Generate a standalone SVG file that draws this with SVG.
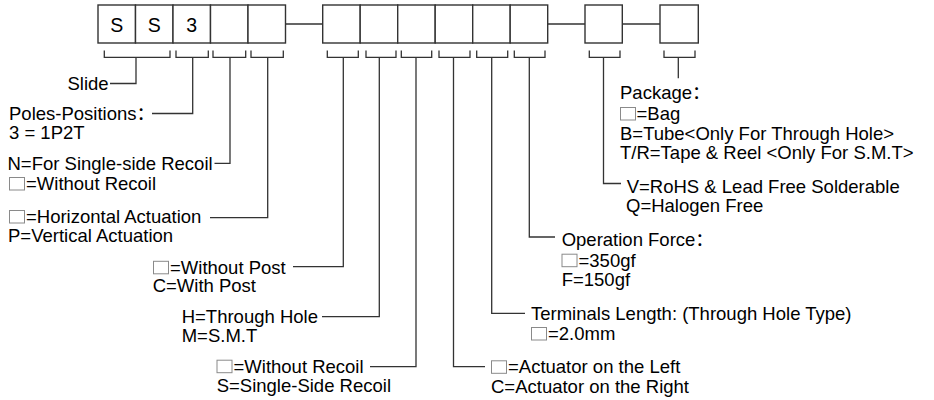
<svg xmlns="http://www.w3.org/2000/svg" width="934" height="400" viewBox="0 0 934 400">
<style>
.bx{fill:#fff;stroke:#333;stroke-width:1.4}
.ln{fill:none;stroke:#333;stroke-width:1.3}
.t{font-family:"Liberation Sans",Arial,"Noto Sans CJK SC",sans-serif;font-size:18.5px;fill:#000}
.bt{font-family:"Liberation Sans",Arial,sans-serif;font-size:19.5px;fill:#000;text-anchor:middle}
.sq{fill:#fff;stroke:#8a8a8a;stroke-width:1}
</style>
<rect width="934" height="400" fill="#fff"/>
<g id="connectors" class="ln">
<path d="M285.5 24H322.7M547.7 24H585M622.3 24H660"/>
<path d="M104.3 50.5V57.3H170V50.5M136 57.3V83.5H110"/>
<path d="M176 50.5V57.3H208.3V50.5M192.7 57.3V113.5H152"/>
<path d="M213 50.5V57.3H245.7V50.5M230 57.3V163.3H214.5"/>
<path d="M251 50.5V57.3H283.3V50.5M267.7 57.3V217.7H210"/>
<path d="M327.3 50.5V57.3H358.3V50.5M343.3 57.3V266.7H293"/>
<path d="M366 50.5V57.3H396V50.5M379.3 57.3V316.7H322"/>
<path d="M401.3 50.5V57.3H431.7V50.5M416 57.3V366.7H370"/>
<path d="M439 50.5V57.3H470V50.5M453.5 57.3V366.7H485"/>
<path d="M476.7 50.5V57.3H507.7V50.5M491.7 57.3V313.3H525"/>
<path d="M514.3 50.5V57.3H545V50.5M529.3 57.3V237H555"/>
<path d="M589.3 50.5V57.3H620V50.5M603.5 57.3V183.5H621"/>
<path d="M664 50.5V57.3H695V50.5M678.3 57.3V78.3"/>
</g>
<g id="code-1"><rect class="bx" x="98" y="5" width="37.5" height="38"/><text class="bt" x="116.75" y="32">S</text></g>
<g id="code-2"><rect class="bx" x="135.5" y="5" width="37.5" height="38"/><text class="bt" x="154.25" y="32">S</text></g>
<g id="code-3"><rect class="bx" x="173" y="5" width="37.5" height="38"/><text class="bt" x="191.75" y="32">3</text></g>
<g id="code-4"><rect class="bx" x="210.5" y="5" width="37.5" height="38"/></g>
<g id="code-5"><rect class="bx" x="248" y="5" width="37.5" height="38"/></g>
<g id="code-6"><rect class="bx" x="322.7" y="5" width="37.5" height="38"/></g>
<g id="code-7"><rect class="bx" x="360.2" y="5" width="37.5" height="38"/></g>
<g id="code-8"><rect class="bx" x="397.7" y="5" width="37.5" height="38"/></g>
<g id="code-9"><rect class="bx" x="435.2" y="5" width="37.5" height="38"/></g>
<g id="code-10"><rect class="bx" x="472.7" y="5" width="37.5" height="38"/></g>
<g id="code-11"><rect class="bx" x="510.2" y="5" width="37.5" height="38"/></g>
<g id="code-12"><rect class="bx" x="585" y="5" width="37.3" height="38"/></g>
<g id="code-13"><rect class="bx" x="660" y="5" width="38.3" height="38"/></g>

<g id="label-slide"><text class="t" x="67.5" y="90">Slide</text></g>
<g id="label-poles"><text class="t" x="9" y="119.5">Poles-Positions：</text><text class="t" x="9" y="138.5">3 = 1P2T</text></g>
<g id="label-recoil1"><text class="t" x="7.5" y="169.5">N=For Single-side Recoil</text><rect class="sq" x="9.5" y="177.5" width="15" height="12.5"/><text class="t" x="26" y="190">=Without Recoil</text></g>
<g id="label-actuation"><rect class="sq" x="9.5" y="210.5" width="15" height="12.5"/><text class="t" x="26" y="223">=Horizontal Actuation</text><text class="t" x="8" y="242.2">P=Vertical Actuation</text></g>
<g id="label-post"><rect class="sq" x="153.5" y="261.3" width="15" height="12.5"/><text class="t" x="170" y="273.8">=Without Post</text><text class="t" x="152.7" y="292.3">C=With Post</text></g>
<g id="label-mount"><text class="t" x="181.7" y="322.7">H=Through Hole</text><text class="t" x="181.7" y="341.7">M=S.M.T</text></g>
<g id="label-recoil2"><rect class="sq" x="217" y="360.2" width="15" height="12.5"/><text class="t" x="233.5" y="372.7">=Without Recoil</text><text class="t" x="216.7" y="391.7">S=Single-Side Recoil</text></g>
<g id="label-actuator"><rect class="sq" x="491.5" y="360.8" width="15" height="12.5"/><text class="t" x="508" y="373.3">=Actuator on the Left</text><text class="t" x="491" y="392.7">C=Actuator on the Right</text></g>
<g id="label-terminals"><text class="t" x="531" y="320">Terminals Length: (Through Hole Type)</text><rect class="sq" x="531.5" y="327.5" width="15" height="12.5"/><text class="t" x="548" y="340">=2.0mm</text></g>
<g id="label-force"><text class="t" x="561.7" y="246">Operation Force：</text><rect class="sq" x="562" y="254.2" width="15" height="12.5"/><text class="t" x="578.5" y="266.7">=350gf</text><text class="t" x="561.7" y="286">F=150gf</text></g>
<g id="label-rohs"><text class="t" x="626.7" y="193">V=RoHS &amp; Lead Free Solderable</text><text class="t" x="626" y="212.3">Q=Halogen Free</text></g>
<g id="label-package"><text class="t" x="620" y="99">Package：</text><rect class="sq" x="620.5" y="107.5" width="15" height="12.5"/><text class="t" x="636.5" y="120">=Bag</text><text class="t" x="620" y="140">B=Tube&lt;Only For Through Hole&gt;</text><text class="t" x="620" y="159">T/R=Tape &amp; Reel &lt;Only For S.M.T&gt;</text></g>
</svg>
